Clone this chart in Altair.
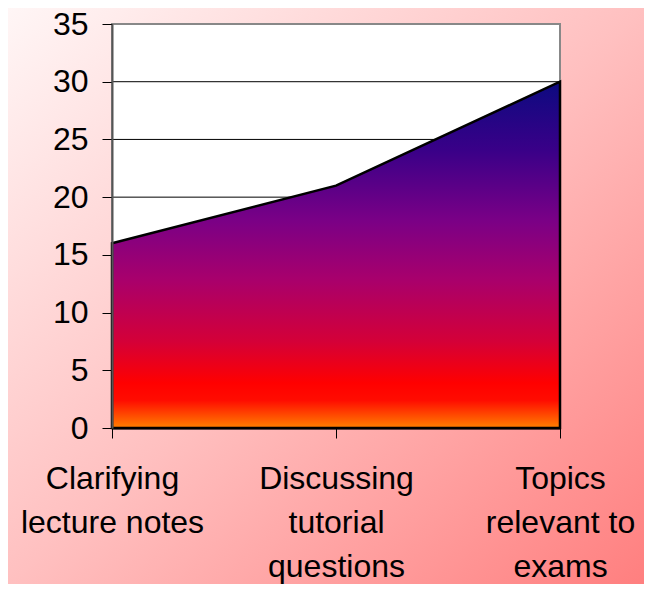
import altair as alt
import pandas as pd

categories = ["Clarifying\nlecture notes", "Discussing\ntutorial\nquestions", "Topics\nrelevant to\nexams"]
values = [16, 21, 30]
y_ticks = [0, 5, 10, 15, 20, 25, 30, 35]

W, H = 448, 404
PAD = {"left": 104, "top": 16, "right": 84, "bottom": 156}

df = pd.DataFrame({"cat": categories, "val": values})
grid_df = pd.DataFrame({"val": y_ticks[1:-1]})
one = pd.DataFrame({"a": [0]})

bg_grad = alt.Gradient(
    gradient="linear", x1=0, y1=0, x2=1, y2=1,
    stops=[alt.GradientStop(offset=0, color="#fff6f6"),
           alt.GradientStop(offset=0.5, color="#ffc0c0"),
           alt.GradientStop(offset=1, color="#ff7f7f")],
)
area_grad = alt.Gradient(
    gradient="linear", x1=0, y1=0, x2=0, y2=1,
    stops=[alt.GradientStop(offset=0, color="#0c0a80"),
           alt.GradientStop(offset=0.2, color="#3a0088"),
           alt.GradientStop(offset=0.4, color="#7a0086"),
           alt.GradientStop(offset=0.57, color="#a8006c"),
           alt.GradientStop(offset=0.75, color="#d40038"),
           alt.GradientStop(offset=0.87, color="#ff0000"),
           alt.GradientStop(offset=0.92, color="#ff0c00"),
           alt.GradientStop(offset=1, color="#ff8000")],
)

bg = alt.Chart(one).mark_rect(color=bg_grad, clip=False).encode(
    x=alt.value(-PAD["left"]), x2=alt.value(W + PAD["right"]),
    y=alt.value(-PAD["top"]), y2=alt.value(H + PAD["bottom"]),
)
plot_bg = alt.Chart(one).mark_rect(fill="white", stroke="#888888", strokeWidth=2).encode(
    x=alt.value(0), x2=alt.value(W), y=alt.value(0), y2=alt.value(H),
)

yscale = alt.Scale(domain=[0, 35], nice=False)
yaxis = alt.Axis(title=None, values=y_ticks, labelFont="Liberation Sans, Arial",
                 labelFontSize=32, labelColor="black", labelPadding=14,
                 tickSize=10, tickColor="black", tickWidth=1,
                 domainColor="#555555", domainWidth=2, grid=False, zindex=1)

grid = alt.Chart(grid_df).mark_rule(color="black", strokeWidth=1).encode(
    y=alt.Y("val:Q", scale=yscale, axis=yaxis),
    x=alt.value(0), x2=alt.value(W),
)

area = alt.Chart(df).mark_area(
    color=area_grad, stroke="black", strokeWidth=2.5, strokeJoin="miter"
).encode(
    x=alt.X("cat:O", sort=categories, scale=alt.Scale(type="point", padding=0),
            axis=alt.Axis(title=None, labelAngle=0, labelExpr="split(datum.label, '\\n')",
                          labelFont="Liberation Sans, Arial", labelLimit=400,
                          labelFontSize=32, labelLineHeight=44, labelColor="black",
                          labelPadding=25, tickSize=10, tickColor="black", tickWidth=1,
                          domainColor="black", domainWidth=2, grid=False, zindex=1,
                          labelBaseline="top")),
    y=alt.Y("val:Q", scale=yscale, axis=yaxis),
)

chart = alt.layer(bg, plot_bg, grid, area).properties(
    width=W, height=H, padding=PAD, autosize=alt.AutoSizeParams(type="none"),
).configure_view(stroke=None)

chart.save("out.html", embed_options={"renderer": "svg", "actions": False})
